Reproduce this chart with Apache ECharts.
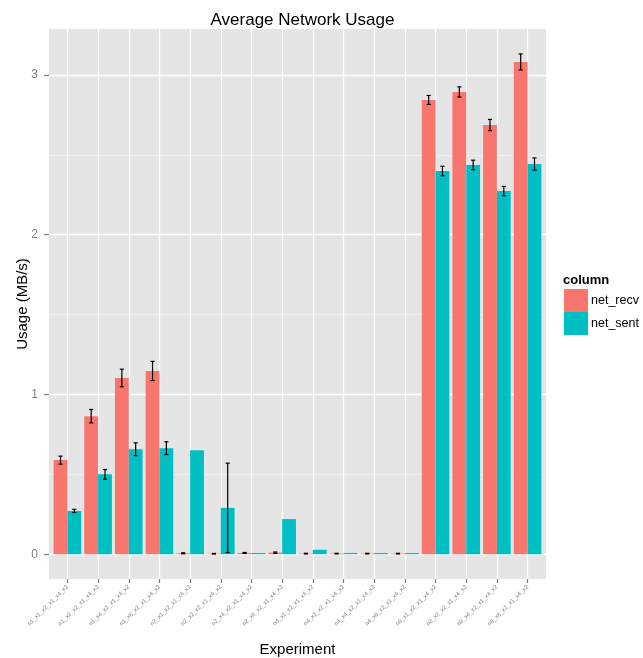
<!DOCTYPE html>
<html>
<head>
<meta charset="utf-8">
<script src="https://cdn.jsdelivr.net/npm/echarts@6/dist/echarts.min.js"></script>
<style>
  html, body { margin: 0; padding: 0; background: #ffffff; }
  #chart { width: 643px; height: 658px; }
</style>
</head>
<body>
<div id="chart"></div>
<script>
// Experiment configurations
const categories = [
  'n1_x1_x2_x1_x4_x2', 'n1_x2_x2_x1_x4_x2', 'n1_x4_x2_x1_x4_x2', 'n1_x8_x2_x1_x4_x2',
  'n2_x1_x2_x1_x4_x2', 'n2_x2_x2_x1_x4_x2', 'n2_x4_x2_x1_x4_x2', 'n2_x8_x2_x1_x4_x2',
  'n4_x1_x2_x1_x4_x2', 'n4_x2_x2_x1_x4_x2', 'n4_x4_x2_x1_x4_x2', 'n4_x8_x2_x1_x4_x2',
  'n8_x1_x2_x1_x4_x2', 'n8_x2_x2_x1_x4_x2', 'n8_x4_x2_x1_x4_x2', 'n8_x8_x2_x1_x4_x2'
];

// Mean usage (MB/s) and error half-widths
const netRecv    = [0.589, 0.864, 1.103, 1.147, 0.006, 0.003, 0.008, 0.010, 0.004, 0.004, 0.004, 0.004, 2.843, 2.893, 2.686, 3.081];
const netRecvErr = [0.025, 0.042, 0.055, 0.060, 0.003, 0.002, 0.003, 0.004, 0.002, 0.002, 0.002, 0.002, 0.028, 0.032, 0.035, 0.050];
const netSent    = [0.271, 0.500, 0.657, 0.664, 0.651, 0.290, 0.008, 0.220, 0.028, 0.008, 0.008, 0.008, 2.398, 2.436, 2.273, 2.442];
const netSentErr = [0.010, 0.030, 0.040, 0.040, null, 0.280, null, null, null, null, null, null, 0.030, 0.030, 0.029, 0.038];

const yTicks = [0, 1, 2, 3];
const yMinorTicks = [0.5, 1.5, 2.5];

const seriesNames = ['net_recv', 'net_sent'];
const colors = ['#F8766D', '#00BFC4'];

const FONT = 'Liberation Sans, Arial, sans-serif';
const BAR_SPAN = 0.9;   // fraction of a category occupied by the dodged bars
const X_EXPAND = 0.6;   // discrete-scale padding on each side, in category units
const Y_MIN = -0.155, Y_MAX = 3.287;

// Panel placement
const PANEL = { left: 49, right: 97, top: 29, bottom: 79 };
const PANEL_W = 643 - PANEL.left - PANEL.right;
const N = categories.length;
const UNIT = PANEL_W / (N - 1 + 2 * X_EXPAND);
const INSET = (X_EXPAND - 0.5) * UNIT;
const centerIndices = categories.map((c, i) => i);

function errorBarSeries(means, errs, slot) {
  const data = means.map((m, i) => errs[i] == null ? null : [i, m - errs[i], m + errs[i]]).filter(d => d);
  return {
    type: 'custom',
    xAxisIndex: 1, yAxisIndex: 2,
    z: 10,
    silent: true,
    data: data,
    encode: { x: 0, y: [1, 2] },
    renderItem: function (params, api) {
      const idx = api.value(0);
      const lo = api.coord([idx, api.value(1)]);
      const hi = api.coord([idx, api.value(2)]);
      const band = api.size([1, 0])[0];
      const barW = band * BAR_SPAN / 2;
      const cx = lo[0] + (slot === 0 ? -barW / 2 : barW / 2);
      const cap = barW * 0.15;
      const style = { stroke: '#000000', lineWidth: 1.2 };
      return {
        type: 'group',
        children: [
          { type: 'line', shape: { x1: cx, y1: lo[1], x2: cx, y2: hi[1] }, style: style },
          { type: 'line', shape: { x1: cx - cap, y1: lo[1], x2: cx + cap, y2: lo[1] }, style: style },
          { type: 'line', shape: { x1: cx - cap, y1: hi[1], x2: cx + cap, y2: hi[1] }, style: style }
        ]
      };
    }
  };
}

const chart = echarts.init(document.getElementById('chart'), null, { renderer: 'canvas' });

chart.setOption({
  animation: false,
  backgroundColor: '#ffffff',
  textStyle: { fontFamily: FONT },
  title: [
    {
      text: 'Average Network Usage',
      left: PANEL.left + PANEL_W / 2, top: 7, textAlign: 'center',
      textStyle: { fontFamily: FONT, fontSize: 17, fontWeight: 'normal', color: '#000000' }
    },
    {
      text: 'column',
      left: 563, top: 274, padding: 0,
      textStyle: { fontFamily: FONT, fontSize: 13, fontWeight: 'bold', color: '#000000' }
    }
  ],
  legend: {
    orient: 'vertical',
    left: 564, top: 289, padding: 0,
    itemWidth: 24, itemHeight: 23, itemGap: 0,
    icon: 'rect',
    data: seriesNames,
    textStyle: { fontFamily: FONT, fontSize: 12.5, color: '#000000', padding: [0, 0, 0, -2] }
  },
  grid: [
    // panel background, horizontal and vertical guides
    {
      left: PANEL.left, right: PANEL.right, top: PANEL.top, bottom: PANEL.bottom,
      containLabel: false, outerBoundsMode: 'none',
      show: true, backgroundColor: '#E5E5E5', borderWidth: 0
    },
    // bars, inset so category centres carry the discrete padding
    {
      left: PANEL.left + INSET, right: PANEL.right + INSET, top: PANEL.top, bottom: PANEL.bottom,
      containLabel: false, outerBoundsMode: 'none'
    }
  ],
  xAxis: [
    {
      gridIndex: 0,
      type: 'value',
      min: -X_EXPAND, max: N - 1 + X_EXPAND,
      axisLine: { show: false, onZero: false },
      axisTick: { show: false, customValues: centerIndices },
      axisLabel: { show: false, customValues: centerIndices },
      splitLine: { show: true, lineStyle: { color: '#FFFFFF', width: 1.3 } }
    },
    {
      gridIndex: 1,
      type: 'category',
      data: categories,
      name: 'Experiment',
      nameLocation: 'middle',
      nameGap: 63,
      nameTextStyle: { fontFamily: FONT, fontSize: 15, color: '#000000' },
      axisLine: { show: false, onZero: false },
      axisTick: { show: true, alignWithLabel: true, length: 4, lineStyle: { color: '#7F7F7F', width: 1.2 } },
      axisLabel: { rotate: 45, interval: 0, fontSize: 6, color: '#7F7F7F', margin: 7, fontFamily: FONT },
      splitLine: { show: false }
    }
  ],
  yAxis: [
    {
      gridIndex: 0,
      type: 'value',
      min: Y_MIN, max: Y_MAX,
      name: 'Usage (MB/s)',
      nameLocation: 'middle',
      nameGap: 19,
      nameMoveOverlap: false,
      nameTextStyle: { fontFamily: FONT, fontSize: 15, color: '#000000' },
      axisLine: { show: false, onZero: false },
      axisTick: { show: true, length: 5, customValues: yTicks, lineStyle: { color: '#7F7F7F', width: 1.2 } },
      axisLabel: { customValues: yTicks, fontSize: 12, color: '#7F7F7F', margin: 11, fontFamily: FONT },
      splitLine: { show: true, lineStyle: { color: '#FFFFFF', width: 1.3 } },
      z: 1
    },
    {
      gridIndex: 0,
      type: 'value',
      min: Y_MIN, max: Y_MAX,
      axisLine: { show: false, onZero: false },
      axisTick: { show: false, customValues: yMinorTicks },
      axisLabel: { show: false, customValues: yMinorTicks },
      splitLine: { show: true, lineStyle: { color: '#F2F2F2', width: 0.8 } },
      z: 0
    },
    {
      gridIndex: 1,
      type: 'value',
      min: Y_MIN, max: Y_MAX,
      show: false,
      axisLine: { onZero: false },
      splitLine: { show: false }
    }
  ],
  series: [
    {
      name: seriesNames[0], type: 'bar', data: netRecv,
      xAxisIndex: 1, yAxisIndex: 2,
      itemStyle: { color: colors[0] },
      barGap: '0%', barCategoryGap: '10%', z: 3
    },
    {
      name: seriesNames[1], type: 'bar', data: netSent,
      xAxisIndex: 1, yAxisIndex: 2,
      itemStyle: { color: colors[1] },
      barGap: '0%', barCategoryGap: '10%', z: 3
    },
    errorBarSeries(netRecv, netRecvErr, 0),
    errorBarSeries(netSent, netSentErr, 1)
  ]
});
</script>
</body>
</html>
